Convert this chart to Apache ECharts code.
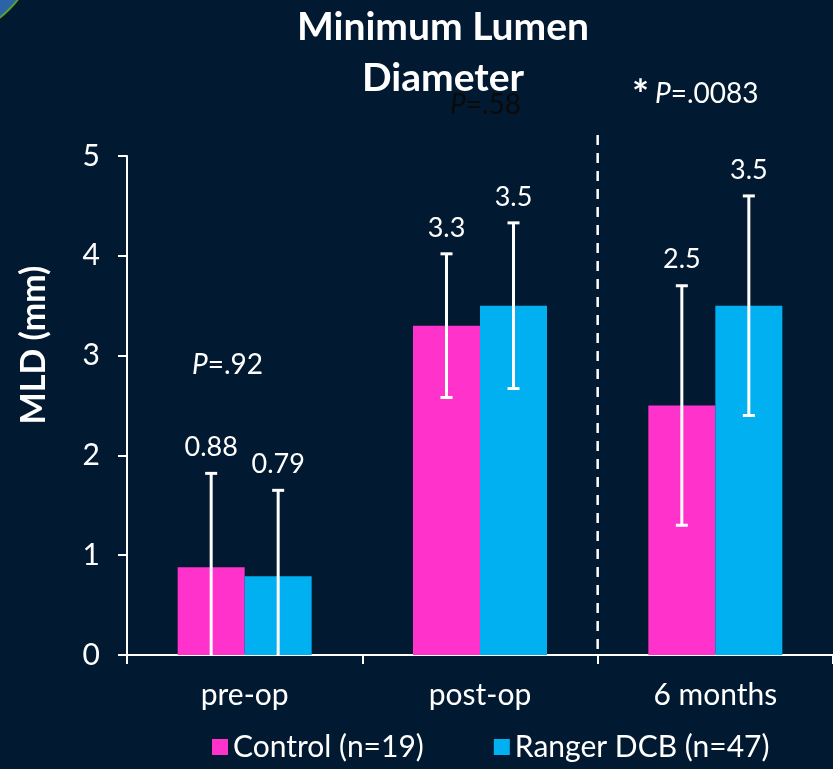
<!DOCTYPE html>
<html>
<head>
<meta charset="utf-8">
<title>Minimum Lumen Diameter</title>
<script src="https://cdn.jsdelivr.net/npm/echarts@6/dist/echarts.min.js"></script>
<style>
  html, body { margin: 0; padding: 0; background: #021a31; }
  #chart { width: 833px; height: 769px; }
</style>
</head>
<body>
<div id="chart"></div>
<script>
  // 数据
  let categories = ['pre-op', 'post-op', '6 months'];
  let seriesNames = ['Control (n=19)', 'Ranger DCB (n=47)'];
  let controlMean = [0.88, 3.3, 2.5];
  let controlSd = [0.94, 0.72, 1.2];
  let dcbMean = [0.79, 3.5, 3.5];
  let dcbSd = [0.86, 0.83, 1.1];
  let yTicks = [0, 1, 2, 3, 4, 5];

  let colorList = ['#ff33cc', '#00b0f0'];
  let font = 'Lato, "Open Sans", sans-serif';
  let barWidth = 67;

  let myChart = echarts.init(document.getElementById('chart'));

  // 误差线数据 [类别, 下限, 上限, 均值]
  function errData(mean, sd) {
    return mean.map(function (m, i) {
      return [i, Math.max(0, m - sd[i]), m + sd[i], m];
    });
  }

  function errSeries(name, mean, sd, offset) {
    return {
      name: name + ' err',
      type: 'custom',
      data: errData(mean, sd),
      z: 10,
      silent: true,
      renderItem: function (params, api) {
        let lo = api.coord([api.value(0), api.value(1)]);
        let hi = api.coord([api.value(0), api.value(2)]);
        let x = lo[0] + offset;
        let cap = 6;
        let style = { stroke: '#ffffff', lineWidth: 3 };
        let children = [
          { type: 'line', shape: { x1: x, y1: lo[1], x2: x, y2: hi[1] }, style: style },
          { type: 'line', shape: { x1: x - cap, y1: hi[1], x2: x + cap, y2: hi[1] }, style: style },
          {
            type: 'text',
            style: {
              x: x, y: hi[1] - 26,
              text: String(api.value(3)),
              fill: '#ffffff',
              font: '27px ' + font,
              align: 'center',
              verticalAlign: 'middle'
            }
          }
        ];
        if (api.value(1) > 0) {
          children.push({ type: 'line', shape: { x1: x - cap, y1: lo[1], x2: x + cap, y2: lo[1] }, style: style });
        }
        return { type: 'group', children: children };
      }
    };
  }

  let option = {
    backgroundColor: '#021a31',
    animation: false,
    title: {
      text: 'Minimum Lumen\nDiameter',
      left: 438,
      top: -3,
      textAlign: 'center',
      textStyle: {
        color: '#ffffff',
        fontFamily: font,
        fontWeight: 'bold',
        fontSize: 39,
        lineHeight: 51
      }
    },
    legend: {
      data: seriesNames,
      bottom: 2,
      left: 207,
      icon: 'rect',
      itemWidth: 16,
      itemHeight: 16,
      itemGap: 70,
      textStyle: { color: '#ffffff', fontFamily: font, fontSize: 30 }
    },
    grid: { left: 127, top: 156, bottom: 114, width: 708 },
    xAxis: {
      type: 'category',
      data: categories,
      axisLine: { lineStyle: { color: '#ffffff', width: 2 } },
      axisTick: { show: true, length: 9, lineStyle: { color: '#ffffff', width: 2 } },
      axisLabel: { color: '#ffffff', fontFamily: font, fontSize: 30, margin: 25 }
    },
    yAxis: {
      type: 'value',
      min: yTicks[0],
      max: yTicks[yTicks.length - 1],
      interval: 1,
      axisLine: { show: true, lineStyle: { color: '#ffffff', width: 2 } },
      axisTick: { show: true, length: 9, lineStyle: { color: '#ffffff', width: 2 } },
      splitLine: { show: false },
      axisLabel: { color: '#ffffff', fontFamily: font, fontSize: 30, margin: 27 }
    },
    series: [
      {
        name: seriesNames[0],
        type: 'bar',
        data: controlMean,
        barWidth: barWidth,
        barGap: '0%',
        itemStyle: { color: colorList[0] }
      },
      {
        name: seriesNames[1],
        type: 'bar',
        data: dcbMean,
        barWidth: barWidth,
        barGap: '0%',
        itemStyle: { color: colorList[1] }
      },
      errSeries(seriesNames[0], controlMean, controlSd, -barWidth / 2),
      errSeries(seriesNames[1], dcbMean, dcbSd, barWidth / 2)
    ]
  };
  myChart.setOption(option);

  // 分隔虚线 + P 值标注
  let p1 = myChart.convertToPixel({ gridIndex: 0 }, [1, 0]);
  let p2 = myChart.convertToPixel({ gridIndex: 0 }, [2, 0]);
  let sepX = (p1[0] + p2[0]) / 2;

  function pText(x, y, rest, color) {
    return {
      type: 'text',
      left: x, top: y,
      style: {
        text: '{i|P}{n|' + rest + '}',
        rich: {
          i: { fontStyle: 'italic', fontSize: 28, fontFamily: font, fill: color },
          n: { fontSize: 28, fontFamily: font, fill: color }
        }
      }
    };
  }

  myChart.setOption({
    graphic: [
      {
        type: 'circle',
        shape: { cx: -60, cy: -60, r: 98 },
        style: { fill: '#2a63a8', stroke: '#5aa02c', lineWidth: 2 }
      },
      {
        type: 'line',
        shape: { x1: sepX, y1: 135, x2: sepX, y2: p1[1] },
        style: { stroke: '#ffffff', lineWidth: 2.5, lineDash: [10, 8] }
      },
      {
        type: 'text',
        x: 34, y: 345,
        rotation: Math.PI / 2,
        style: {
          text: 'MLD (mm)',
          fill: '#ffffff',
          font: 'bold 34px ' + font,
          align: 'center',
          verticalAlign: 'middle'
        }
      },
      pText(192, 351, '=.92', '#ffffff'),
      pText(450, 91, '=.58', '#0a0a0a'),
      {
        type: 'text',
        left: 632, top: 76,
        style: { text: '*', fill: '#ffffff', font: 'bold 40px ' + font }
      },
      pText(655, 80, '=.0083', '#ffffff')
    ]
  });
</script>
</body>
</html>
